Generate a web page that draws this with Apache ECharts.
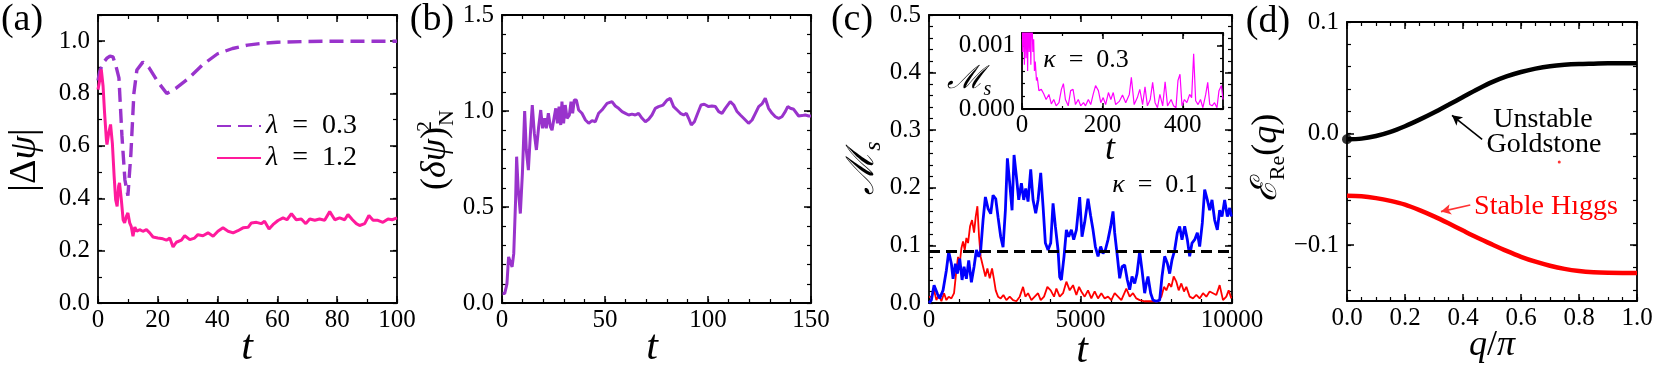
<!DOCTYPE html>
<html>
<head>
<meta charset="utf-8">
<script src="https://cdn.jsdelivr.net/npm/echarts@6/dist/echarts.min.js"></script>
<style>
html, body { margin: 0; padding: 0; background: #fff; }
#main { width: 1661px; height: 371px; }
</style>
</head>
<body>
<div id="main"></div>
<script>
// ---- panel (a): |Delta psi| vs t ----
var aDashT = [0,0.6,1.7,3,4,5,6,7,8,9,10,11,12,13,15,17,20,23,26,30,35,40,45,50,55,60,70,80,90,100];
var aDashV = [0.85,0.885,0.917,0.935,0.943,0.94,0.905,0.86,0.64,0.47,0.41,0.57,0.8,0.89,0.92,0.9,0.845,0.8,0.82,0.855,0.91,0.952,0.972,0.985,0.992,0.996,0.999,1.0,1.0,1.0];
var aSolidT = [0,0.6,1.1,1.7,2.2,2.8,3.0,3.6,4.2,4.8,5.4,5.9,6.4,6.9,7.2,7.8,8.4,8.9,9.5,10,10.6,11.1,11.7,12.3,13,13.9,15,16.2,17.3,18.4,20,21.7,22.9,24,25.1,26.2,27.9,29,30.7,32.3,33.4,35.1,36.8,38.5,40.1,41.8,43.5,45.2,46.8,48.5,50.2,51.3,53,54.6,55.7,57.2,58.5,60.2,61.9,63.2,64.7,66.3,68,69.5,70.8,72.5,74.1,75.8,77.5,79.2,80.8,82.5,83.6,85.1,86.4,87.5,89.2,90.6,92,93.6,95.3,97,98.4,100];
var aSolidV = [0.815,0.853,0.892,0.828,0.726,0.624,0.605,0.65,0.682,0.611,0.484,0.395,0.369,0.446,0.459,0.395,0.318,0.306,0.331,0.344,0.306,0.293,0.255,0.29,0.274,0.28,0.274,0.28,0.268,0.252,0.248,0.245,0.24,0.248,0.214,0.232,0.24,0.257,0.242,0.248,0.261,0.257,0.268,0.255,0.274,0.287,0.274,0.268,0.276,0.287,0.289,0.306,0.308,0.303,0.312,0.283,0.299,0.315,0.325,0.318,0.341,0.318,0.321,0.303,0.321,0.316,0.321,0.316,0.349,0.318,0.325,0.318,0.338,0.318,0.303,0.296,0.303,0.334,0.316,0.316,0.308,0.321,0.318,0.325];
var aNames = ['λ\u2002=\u20020.3', 'λ\u2002=\u20021.2'];
var aXTicks = [0,20,40,60,80,100];
var aYTicks = [0,0.2,0.4,0.6,0.8,1.0];

// ---- panel (b): (delta psi)^2_N vs t ----
var bT = [0.3,1.3,2.4,3.2,4,4.9,5.7,6.6,7.1,7.8,8.9,9.9,11,11.8,12.8,13.8,14.7,15.7,16.7,17.8,18.8,19.7,20.7,21.5,22.5,23.5,24.3,25.1,26.1,26.9,27.7,28.5,29.1,29.9,30.7,31.6,32.7,33.5,34.3,35.1,36.1,37.2,38.8,40.5,42.1,43.7,45.3,46.9,48.5,51,53.4,55,56.6,58.3,59.9,61.5,63.1,64.7,66.3,68,69.6,71.2,72.8,74.4,76,78.2,80.1,81.7,83.3,85,86.6,88.2,89.5,90.6,91.9,93.4,95,96.6,98.2,100.3,101.9,103.6,105.2,106.8,108.4,110.8,112.5,114.1,115.7,117.3,119.7,121.4,123,124.6,126.2,127.8,129.4,131.1,132.7,134.3,135.9,137.5,138.7,140,141.6,142.4,144,145.6,147.2,148.9,150];
var bV = [0.049,0.049,0.10,0.24,0.231,0.188,0.257,0.536,0.762,0.605,0.466,0.675,1.0,0.797,0.692,0.883,1.031,0.883,0.797,0.918,1.005,0.91,0.962,0.91,0.988,0.918,0.90,0.953,1.014,0.936,1.023,0.927,1.049,0.936,1.031,0.962,0.979,1.049,0.988,1.057,1.057,1.005,0.988,0.953,0.936,0.95,0.944,0.988,1.005,1.04,1.049,1.026,1.014,0.997,0.988,0.979,0.984,0.979,0.988,0.962,0.944,0.957,0.979,1.014,1.023,1.031,1.057,1.066,1.023,1.005,0.988,0.979,0.988,0.962,0.927,0.944,0.988,1.031,1.035,1.023,1.026,1.023,0.997,0.988,1.014,1.049,1.031,0.997,0.979,0.962,0.936,0.953,0.988,1.023,1.037,1.066,1.014,0.988,0.97,0.962,0.97,0.997,1.023,1.014,1.009,1.014,0.974,0.976,0.979,0.974,0.974];
var bXTicks = [0,50,100,150];
var bYTicks = [0,0.5,1.0,1.5];

// ---- panel (c): M_s vs t, kappa = 0.1 ----
var cBlueT = [0,79,167,277,354,464,574,651,739,794,871,937,1014,1091,1157,1234,1311,1399,1487,1564,1641,1707,1784,1861,1949,2037,2114,2202,2279,2367,2444,2521,2587,2664,2741,2807,2884,2961,3049,3126,3192,3269,3357,3434,3522,3599,3687,3764,3841,3929,4017,4094,4171,4259,4314,4369,4457,4534,4611,4699,4776,4864,4973,5050,5138,5248,5336,5413,5490,5578,5666,5743,5820,5908,5996,6073,6128,6216,6293,6370,6458,6546,6623,6700,6788,6865,6953,7030,7118,7173,7228,7316,7393,7503,7613,7690,7778,7866,7943,8020,8108,8196,8273,8350,8438,8526,8603,8680,8768,8856,8933,9021,9098,9186,9263,9340,9428,9516,9593,9670,9758,9846,9923,9978];
var cBlueV = [0,0.005,0.031,0.016,0.008,0.022,0.057,0.089,0.068,0.042,0.068,0.051,0.077,0.04,0.063,0.042,0.074,0.036,0.063,0.092,0.08,0.092,0.144,0.184,0.164,0.155,0.187,0.181,0.149,0.115,0.097,0.161,0.251,0.208,0.161,0.257,0.22,0.179,0.208,0.179,0.199,0.176,0.232,0.179,0.156,0.179,0.226,0.168,0.104,0.092,0.104,0.173,0.133,0.092,0.045,0.04,0.081,0.127,0.115,0.127,0.11,0.127,0.184,0.115,0.14,0.181,0.151,0.127,0.098,0.081,0.098,0.086,0.092,0.11,0.133,0.159,0.122,0.081,0.043,0.063,0.066,0.04,0.023,0.046,0.034,0.051,0.089,0.057,0.017,0.034,0.046,0.017,0.005,0.003,0.005,0.046,0.081,0.069,0.051,0.075,0.092,0.122,0.133,0.11,0.133,0.11,0.081,0.104,0.11,0.122,0.098,0.139,0.197,0.179,0.161,0.179,0.144,0.127,0.161,0.15,0.179,0.15,0.165,0.15];
var cRedT = [0,79,167,244,321,409,497,574,651,739,827,904,959,1014,1069,1124,1179,1234,1289,1355,1421,1487,1542,1597,1652,1707,1784,1861,1927,2004,2081,2147,2202,2279,2367,2455,2554,2664,2774,2884,2994,3104,3181,3269,3379,3489,3599,3687,3797,3907,4017,4127,4204,4314,4424,4534,4644,4754,4864,4952,5028,5138,5248,5358,5468,5578,5688,5798,5908,6018,6128,6238,6348,6513,6623,6733,6843,6953,7118,7338,7558,7668,7756,7833,7921,7998,8075,8163,8240,8328,8416,8493,8603,8713,8823,8933,9043,9153,9263,9373,9483,9593,9703,9813,9890,9978];
var cRedV = [0.01,0.011,0.022,0.005,0.014,0.003,0.017,0.005,0.011,0.008,0.017,0.057,0.08,0.069,0.095,0.107,0.092,0.113,0.104,0.133,0.144,0.122,0.15,0.168,0.115,0.08,0.063,0.046,0.06,0.043,0.06,0.04,0.022,0.011,0.008,0.014,0.005,0.011,0.005,0.003,0.011,0.028,0.011,0.017,0.005,0.011,0.017,0.005,0.011,0.028,0.022,0.011,0.025,0.011,0.017,0.037,0.022,0.031,0.014,0.028,0.02,0.011,0.022,0.008,0.02,0.008,0.017,0.008,0.011,0.005,0.017,0.011,0.005,0.025,0.011,0.017,0.008,0.005,0.003,0.003,0.003,0.011,0.028,0.022,0.034,0.028,0.046,0.037,0.022,0.034,0.02,0.028,0.011,0.008,0.014,0.008,0.017,0.011,0.02,0.017,0.014,0.031,0.005,0.011,0.022,0.008];
var cThreshold = 0.092;
var cXTicks = [0,5000,10000];
var cYTicks = [0,0.1,0.2,0.3,0.4,0.5];

// ---- inset of (c): kappa = 0.3 ----
var inT = [0,2,4,6,8,10,12,14,16,18,20,22,24,27,29,31,33,36,38,42,48,54,60,67,73,79,85,92,98,103,108,115,121,127,133,140,146,153,158,165,171,177,183,190,196,202,208,215,221,227,233,242,250,258,267,272,279,287,293,300,306,312,319,325,331,337,343,350,356,362,371,377,383,388,393,398,404,410,417,422,427,432,438,444,450,457,462,467,473,479,485,490,496,500];
var inV = [0.0016,0.0009,0.0016,0.0007,0.0016,0.0008,0.0016,0.0006,0.0016,0.0009,0.0014,0.0007,0.0016,0.0009,0.0011,0.0006,0.00075,0.00045,0.0005,0.00029,0.00031,0.00024,0.00015,0.00023,0.00008,0.00015,0.00005,0.0001,0.00031,0.0004,0.00015,0.00005,0.00029,0.00031,0.00007,0.00015,0.00005,0.0001,0.00005,0.00015,0.00007,0.00023,0.00037,0.00029,0.0001,0.00018,0.00007,0.00026,0.00015,0.00026,0.00007,0.00012,0.00022,0.0001,0.00023,0.0005,0.00007,0.00018,0.00031,0.00007,0.00035,0.00005,0.00015,0.00042,0.0001,0.00002,0.00023,0.00005,0.00043,0.00005,0.00015,0.00005,0.00002,0.00045,0.00055,0.00005,0.00015,0.0001,0.00023,0.00018,0.00087,0.00013,0.00007,0.00015,0.00002,0.00023,0.00042,0.00007,0.00005,0.0001,0.00002,0.00029,0.00037,0.00015];
var inThreshold = 0.00016;
var inXTicks = [0,200,400];
var inYTicks = [0,0.001];

// ---- panel (d): E_Re(q) vs q/pi ----
var dQ = [0,0.05,0.1,0.15,0.2,0.25,0.3,0.35,0.4,0.45,0.5,0.55,0.6,0.65,0.7,0.75,0.8,0.85,0.9,0.95,1.0];
var dGold = [-0.0051,-0.0045,-0.0022,0.0015,0.0066,0.0125,0.0189,0.0258,0.0328,0.0397,0.0461,0.0512,0.0552,0.0582,0.0604,0.0617,0.0624,0.0627,0.063,0.063,0.063];
var dHiggs = [-0.0558,-0.0562,-0.0578,-0.0603,-0.0637,-0.0686,-0.0742,-0.0804,-0.0869,-0.0933,-0.0993,-0.1051,-0.1104,-0.1148,-0.1184,-0.1212,-0.1231,-0.1242,-0.1247,-0.1248,-0.1248];
var dGoldArrow = [[0.466,-0.0051],[0.362,0.0164]];
var dHiggsArrow = [[0.425,-0.0639],[0.324,-0.0699]];
var dStray = [0.732,-0.0254];
var dXTicks = [0,0.2,0.4,0.6,0.8,1.0];
var dYTicks = [-0.1,0,0.1];

var SERIF = 'Liberation Serif';

function pairs(xs, ys) {
  var out = [];
  for (var i = 0; i < xs.length && i < ys.length; i++) out.push([xs[i], ys[i]]);
  return out;
}
function steps(a, b, s) {
  var out = [];
  var n = Math.round((b - a) / s);
  for (var i = 0; i <= n; i++) out.push(+(a + i * s).toFixed(8));
  return out;
}
function fixed(d) {
  return function (v) { return (+v).toFixed(d).replace('-', '\u2212'); };
}

var xAxes = [], yAxes = [];
// frame axes on all four sides, inward major ticks + a second axis for minor ticks
function axisSet(list, grid, dim, min, max, major, minor, fmt, opt) {
  var first = list.length;
  var sides = dim === 'x' ? ['bottom', 'top'] : ['left', 'right'];
  sides.forEach(function (side, k) {
    list.push({
      type: 'value', gridIndex: grid, position: side, min: min, max: max,
      axisLine: { show: true, onZero: false, lineStyle: { color: '#000', width: 1.8 } },
      axisTick: { show: true, inside: true, length: opt.major, customValues: major, lineStyle: { color: '#000', width: 1.5 } },
      axisLabel: { show: k === 0, customValues: major, formatter: fmt, color: '#000',
        fontFamily: SERIF, fontSize: opt.font, margin: opt.margin },
      splitLine: { show: false }
    });
    list.push({
      type: 'value', gridIndex: grid, position: side, min: min, max: max,
      axisLine: { show: false, onZero: false },
      axisTick: { show: true, inside: true, length: opt.minor, customValues: minor, lineStyle: { color: '#000', width: 1.2 } },
      axisLabel: { show: false },
      splitLine: { show: false }
    });
  });
  return first;
}

var grids = [
  { left: 98, top: 15, width: 299, height: 288 },
  { left: 502, top: 15, width: 309, height: 288 },
  { left: 929, top: 15, width: 303, height: 288 },
  { left: 1347, top: 22, width: 290, height: 279 },
  { left: 1022, top: 33, width: 201, height: 76, show: true, backgroundColor: '#fff', borderWidth: 0 }
];
grids.forEach(function (g) { g.containLabel = false; g.outerBoundsMode = 'none'; });

var xo = { major: 7, minor: 4, font: 25, margin: 5 };
var yo = { major: 7, minor: 4, font: 25, margin: 8 };
var io = { major: 6, minor: 3, font: 25, margin: 4 };
var ioy = { major: 6, minor: 3, font: 25, margin: 7 };

var ax = [], ay = [];
ax[0] = axisSet(xAxes, 0, 'x', 0, 100, aXTicks, steps(0, 100, 10), fixed(0), xo);
ay[0] = axisSet(yAxes, 0, 'y', 0, 1.1, aYTicks, steps(0, 1.1, 0.1), fixed(1), yo);
ax[1] = axisSet(xAxes, 1, 'x', 0, 150, bXTicks, steps(0, 150, 10), fixed(0), xo);
ay[1] = axisSet(yAxes, 1, 'y', 0, 1.5, bYTicks, steps(0, 1.5, 0.1), fixed(1), yo);
ax[2] = axisSet(xAxes, 2, 'x', 0, 10000, cXTicks, steps(0, 10000, 1000), fixed(0), xo);
ay[2] = axisSet(yAxes, 2, 'y', 0, 0.5, cYTicks, steps(0, 0.5, 0.02), fixed(1), yo);
ax[3] = axisSet(xAxes, 3, 'x', 0, 1, dXTicks, steps(0, 1, 0.05), fixed(1), xo);
ay[3] = axisSet(yAxes, 3, 'y', -0.15, 0.1, dYTicks, steps(-0.14, 0.1, 0.02), fixed(1), yo);
ax[4] = axisSet(xAxes, 4, 'x', 0, 500, inXTicks, steps(0, 500, 100), fixed(0), io);
ay[4] = axisSet(yAxes, 4, 'y', 0, 0.0012, inYTicks, steps(0, 0.0012, 0.0002), fixed(3), ioy);

function line(name, p, data, color, width, type) {
  return {
    name: name, type: 'line', xAxisIndex: ax[p], yAxisIndex: ay[p], data: data,
    showSymbol: false, symbol: 'none', clip: true,
    lineStyle: { color: color, width: width, type: type || 'solid' },
    itemStyle: { color: color }
  };
}

var series = [
  line(aNames[0], 0, pairs(aDashT, aDashV), '#9933cc', 3.4, [14, 7]),
  line(aNames[1], 0, pairs(aSolidT, aSolidV), '#ff1a9c', 3),
  line('b', 1, pairs(bT, bV), '#9933cc', 3),
  line('c-red', 2, pairs(cRedT, cRedV), '#ff0000', 1.8),
  line('c-blue', 2, pairs(cBlueT, cBlueV), '#0000ff', 2.8),
  line('inset', 4, pairs(inT, inV), '#ff00ff', 1.2),
  line('d-gold', 3, pairs(dQ, dGold), '#000000', 4.5),
  line('d-higgs', 3, pairs(dQ, dHiggs), '#ff0000', 4.5)
];
series[6].smooth = 0.3;
series[7].smooth = 0.3;
series[4].markLine = {
  silent: true, symbol: 'none', animation: false, label: { show: false },
  lineStyle: { color: '#000', width: 3, type: [11, 6] },
  data: [{ yAxis: cThreshold }]
};
series[5].markLine = {
  silent: true, symbol: 'none', animation: false, label: { show: false },
  lineStyle: { color: '#000', width: 1.2, type: [4, 2] },
  data: [{ yAxis: inThreshold }]
};
series[6].markLine = {
  silent: true, symbol: ['none', 'arrow'], symbolSize: [8, 10], animation: false, label: { show: false },
  lineStyle: { color: '#000', width: 1.6, type: 'solid' },
  data: [[{ coord: dGoldArrow[0] }, { coord: dGoldArrow[1] }]]
};
series[7].markLine = {
  silent: true, symbol: ['none', 'arrow'], symbolSize: [8, 10], animation: false, label: { show: false },
  lineStyle: { color: '#ff3333', width: 1.6, type: 'solid' },
  data: [[{ coord: dHiggsArrow[0] }, { coord: dHiggsArrow[1] }]]
};
series.push({
  name: 'd-origin', type: 'scatter', xAxisIndex: ax[3], yAxisIndex: ay[3],
  data: [[dQ[0], dGold[0]]], symbol: 'circle', symbolSize: 10, itemStyle: { color: '#000' }
});
series.push({
  name: 'd-dot', type: 'scatter', xAxisIndex: ax[3], yAxisIndex: ay[3],
  data: [dStray], symbol: 'circle', symbolSize: 3, itemStyle: { color: '#ff0000' }
});

function rich(size) {
  var s = Math.round(size * 0.62);
  return {
    i: { fontStyle: 'italic', fontFamily: SERIF, fontSize: size, lineHeight: size + 8 },
    r: { fontFamily: SERIF, fontSize: size, lineHeight: size + 8 },
    sub: { fontFamily: SERIF, fontSize: s, lineHeight: s, verticalAlign: 'bottom' },
    isub: { fontFamily: SERIF, fontStyle: 'italic', fontSize: s, lineHeight: s, verticalAlign: 'bottom' },
    // zero-advance superscript so the following subscript sits under it
    sup0: { fontFamily: SERIF, fontSize: s, lineHeight: s, verticalAlign: 'top', width: 1 }
  };
}
function label(x, y, text, size, opts) {
  opts = opts || {};
  return {
    type: 'text', x: x, y: y, rotation: opts.rot || 0, z: 100,
    style: {
      text: text, fill: opts.color || '#000',
      fontFamily: SERIF, fontSize: size,
      align: 'center', verticalAlign: 'middle',
      textAlign: 'center', textVerticalAlign: 'middle',
      rich: rich(size)
    }
  };
}

var graphics = [
  label(22, 20, '(a)', 38),
  label(432, 20, '(b)', 38),
  label(852, 20, '(c)', 38),
  label(1268, 22, '(d)', 38),
  label(247, 348, '{i|t}', 42),
  label(652, 348, '{i|t}', 42),
  label(1082, 351, '{i|t}', 42),
  label(1492, 346, '{i|q}{r|/}{i|π}', 36),
  label(25, 160, '{r|\u007CΔ}{i|ψ}{r|\u007C}', 38, { rot: Math.PI / 2 }),
  label(436, 150, '{r|(}{i|δψ}{r|)}{sup0|2}{sub|N}', 36, { rot: Math.PI / 2 }),
  label(863, 168, '{i|ℳ}{isub|s}', 38, { rot: Math.PI / 2 }),
  label(1267, 158, '{i|ℰ}{sub|Re}{r|(}{i|q}{r|)}', 36, { rot: Math.PI / 2 }),
  label(969, 80, '{i|ℳ}{isub|s}', 32),
  label(1110, 150, '{i|t}', 36),
  label(1086, 60, '{i|κ}{r|\u2002=\u20020.3}', 26),
  label(1155, 185, '{i|κ}{r|\u2002=\u20020.1}', 26),
  label(1543, 120, 'Unstable', 28),
  label(1544, 145, 'Goldstone', 28),
  label(1546, 207, 'Stable Hıggs', 28, { color: '#ff0000' })
];

var option = {
  animation: false,
  backgroundColor: '#fff',
  grid: grids,
  xAxis: xAxes,
  yAxis: yAxes,
  legend: {
    data: aNames, orient: 'vertical', left: 211, top: 106,
    itemWidth: 44, itemHeight: 14, itemGap: 2,
    itemStyle: { color: 'rgba(0,0,0,0)', borderWidth: 0, opacity: 0 },
    formatter: function (name) { return '{i|λ}{r|' + name.slice(1) + '}'; },
    textStyle: { color: '#000', fontFamily: SERIF, fontSize: 28, lineHeight: 30,
      rich: { i: { fontStyle: 'italic', fontFamily: SERIF, fontSize: 28 }, r: { fontFamily: SERIF, fontSize: 28 } } }
  },
  series: series,
  graphic: graphics
};

var chart = echarts.init(document.getElementById('main'), null, { renderer: 'canvas' });
chart.setOption(option);
</script>
</body>
</html>
